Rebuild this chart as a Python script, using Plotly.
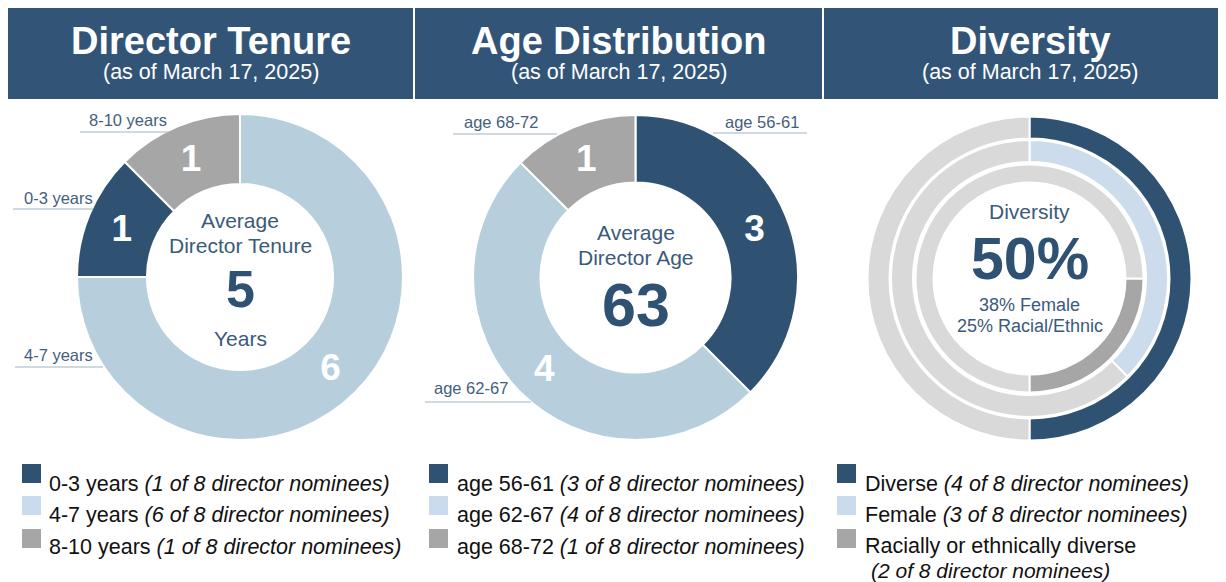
import plotly.graph_objects as go

# ---------------- data ----------------
total_nominees = 8
as_of = "(as of March 17, 2025)"

panel_titles = ["Director Tenure", "Age Distribution", "Diversity"]

tenure_labels = ["0-3 years", "4-7 years", "8-10 years"]
tenure_counts = [1, 6, 1]
tenure_clockwise_order = ["4-7 years", "0-3 years", "8-10 years"]
tenure_average = "5"

age_labels = ["age 56-61", "age 62-67", "age 68-72"]
age_counts = [3, 4, 1]
age_average = "63"

diversity_labels = ["Diverse", "Female", "Racially or ethnically diverse"]
diversity_counts = [4, 3, 2]
diversity_pct = "50%"
diversity_sub = ["38% Female", "25% Racial/Ethnic"]

# ---------------- style ----------------
PAGE_MARGIN = 8            # the browser's default body margin
W, H = 1226 - PAGE_MARGIN, 582 - PAGE_MARGIN
FONT = "Liberation Sans, Arial, Helvetica, sans-serif"
HEADER = "#325577"
DARK = "#2f5273"
LIGHT = "#b7cfdc"
LEGEND_LIGHT = "#c9dbec"
GRAY = "#a6a6a6"
RING_GRAY = "#d9d9d9"
FEMALE = "#cddcec"
TEXT_BLUE = "#3b5a7b"
CALLOUT = "#44607e"
LEADER = "#9fb4c6"

color_tenure = {"0-3 years": DARK, "4-7 years": LIGHT, "8-10 years": GRAY}
color_age = [DARK, LIGHT, GRAY]


def px(x):
    return (x - PAGE_MARGIN) / W


def py(y):
    return 1 - (y - PAGE_MARGIN) / H


def dom(cx, cy, r):
    return dict(x=[px(cx - r), px(cx + r)], y=[py(cy + r), py(cy - r)])


fig = go.Figure()

# ---- Director tenure donut ----
t_vals = [tenure_counts[tenure_labels.index(l)] for l in tenure_clockwise_order]
fig.add_trace(go.Pie(
    labels=tenure_clockwise_order, values=t_vals,
    domain=dom(240, 277, 163), hole=0.571, sort=False, direction="clockwise", rotation=0,
    marker=dict(colors=[color_tenure[l] for l in tenure_clockwise_order], line=dict(color="white", width=2)),
    texttemplate="%{value}", textposition="inside", insidetextorientation="horizontal",
    textfont=dict(family=FONT, size=37, color="white", weight="bold"),
    hoverinfo="label+value", showlegend=False))

# ---- Age donut ----
fig.add_trace(go.Pie(
    labels=age_labels, values=age_counts,
    domain=dom(635.5, 277.5, 162.5), hole=0.585, sort=False, direction="clockwise", rotation=0,
    marker=dict(colors=color_age, line=dict(color="white", width=2)),
    texttemplate="%{value}", textposition="inside", insidetextorientation="horizontal",
    textfont=dict(family=FONT, size=37, color="white", weight="bold"),
    hoverinfo="label+value", showlegend=False))

# ---- Diversity rings ----
cxd, cyd = 1029.5, 278.5
rings = [
    # (outer r, inner r, count, color, rotation)
    (162, 140, diversity_counts[0], DARK, 0),
    (138.5, 116.5, diversity_counts[1], FEMALE, 0),
    (114, 96, diversity_counts[2], GRAY, 90),
]
for (ro, ri, cnt, col, rot), lab in zip(rings, diversity_labels):
    fig.add_trace(go.Pie(
        labels=[lab, "Other"], values=[cnt, total_nominees - cnt],
        domain=dom(cxd, cyd, ro), hole=ri / ro, sort=False, direction="clockwise", rotation=rot,
        marker=dict(colors=[col, RING_GRAY], line=dict(color="white", width=2)),
        textinfo="none", hoverinfo="label+value", showlegend=False))

shapes = []
annotations = []

# ---- headers ----
headers = [(8, 413, 210.5), (415, 822, 618.5), (824, 1226, 1030)]
for (x0, x1, xc), title in zip(headers, panel_titles):
    shapes.append(dict(type="rect", xref="paper", yref="paper", x0=px(x0), x1=px(x1),
                       y0=py(99), y1=py(7), fillcolor=HEADER, line=dict(width=0), layer="below"))
    annotations.append(dict(x=px(xc), y=py(41), text="<b>%s</b>" % title, showarrow=False,
                            xanchor="center", yanchor="middle",
                            font=dict(family=FONT, size=38, color="white")))
    annotations.append(dict(x=px(xc), y=py(72), text=as_of, showarrow=False,
                            xanchor="center", yanchor="middle",
                            font=dict(family=FONT, size=21.5, color="white")))

# ---- callout labels with leader lines ----
callouts = [
    # text, text-left x, text-center y, line y, line x0, line x1
    (tenure_labels[2], 87, 120, 132, 80, 170),
    (tenure_labels[0], 22, 198, 209, 13, 93),
    (tenure_labels[1], 22, 355, 367, 15, 103),
    (age_labels[2], 462, 122, 134, 453, 557),
    (age_labels[0], 723, 122, 133, 713, 807),
    (age_labels[1], 432, 388, 402, 425, 531),
]
for txt, tx, ty, ly, lx0, lx1 in callouts:
    annotations.append(dict(x=px(tx), y=py(ty), text=txt, showarrow=False, xanchor="left",
                            yanchor="middle", font=dict(family=FONT, size=16.5, color=CALLOUT)))
    shapes.append(dict(type="line", xref="paper", yref="paper", x0=px(lx0), x1=px(lx1),
                       y0=py(ly), y1=py(ly), line=dict(color=LEADER, width=1.2)))

# ---- centre texts ----
centre = [
    (240, 220, "Average", 21, False),
    (240, 245, "Director Tenure", 21, False),
    (240, 289, tenure_average, 52, True),
    (240, 338, "Years", 21, False),
    (635.5, 232, "Average", 21, False),
    (635.5, 257, "Director Age", 21, False),
    (635.5, 305, age_average, 61, True),
    (cxd, 211, "Diversity", 21, False),
    (cxd, 259, diversity_pct, 59, True),
    (cxd, 305, diversity_sub[0], 18, False),
    (cxd, 326, diversity_sub[1], 18, False),
]
for x, y, txt, sz, bold in centre:
    annotations.append(dict(x=px(x), y=py(y), text=("<b>%s</b>" % txt) if bold else txt,
                            showarrow=False, xanchor="center", yanchor="middle",
                            font=dict(family=FONT, size=sz, color=DARK if bold else TEXT_BLUE)))

# ---- legends ----
leg_colors = [DARK, LEGEND_LIGHT, GRAY]
row_sq = [464, 496, 529]
row_txt = [484, 515, 547]


def nominee_text(n):
    return "<i>(%d of %d director nominees)</i>" % (n, total_nominees)


legends = [
    (22, 47, [l + " " + nominee_text(c) for l, c in zip(tenure_labels, tenure_counts)], row_txt),
    (429, 455, [l + " " + nominee_text(c) for l, c in zip(age_labels, age_counts)], row_txt),
    (837, 863, [diversity_labels[0] + " " + nominee_text(diversity_counts[0]),
                diversity_labels[1] + " " + nominee_text(diversity_counts[1]),
                diversity_labels[2]], [484, 515, 545.5]),
]
for sqx, tx, texts, ys in legends:
    for i, t in enumerate(texts):
        shapes.append(dict(type="rect", xref="paper", yref="paper", x0=px(sqx), x1=px(sqx + 19),
                           y0=py(row_sq[i] + 19), y1=py(row_sq[i]), fillcolor=leg_colors[i],
                           line=dict(width=0)))
        annotations.append(dict(x=px(tx), y=py(ys[i]), text=t, showarrow=False,
                                xanchor="left", yanchor="middle",
                                font=dict(family=FONT, size=21.5, color="#111111")))
annotations.append(dict(x=px(869), y=py(570), text=nominee_text(diversity_counts[2]), showarrow=False,
                        xanchor="left", yanchor="middle",
                        font=dict(family=FONT, size=21, color="#111111")))

fig.update_layout(
    width=W, height=H, margin=dict(l=0, r=0, t=0, b=0),
    paper_bgcolor="white", plot_bgcolor="white", showlegend=False,
    shapes=shapes, annotations=annotations,
    font=dict(family=FONT),
)

fig.write_html("out.html")
